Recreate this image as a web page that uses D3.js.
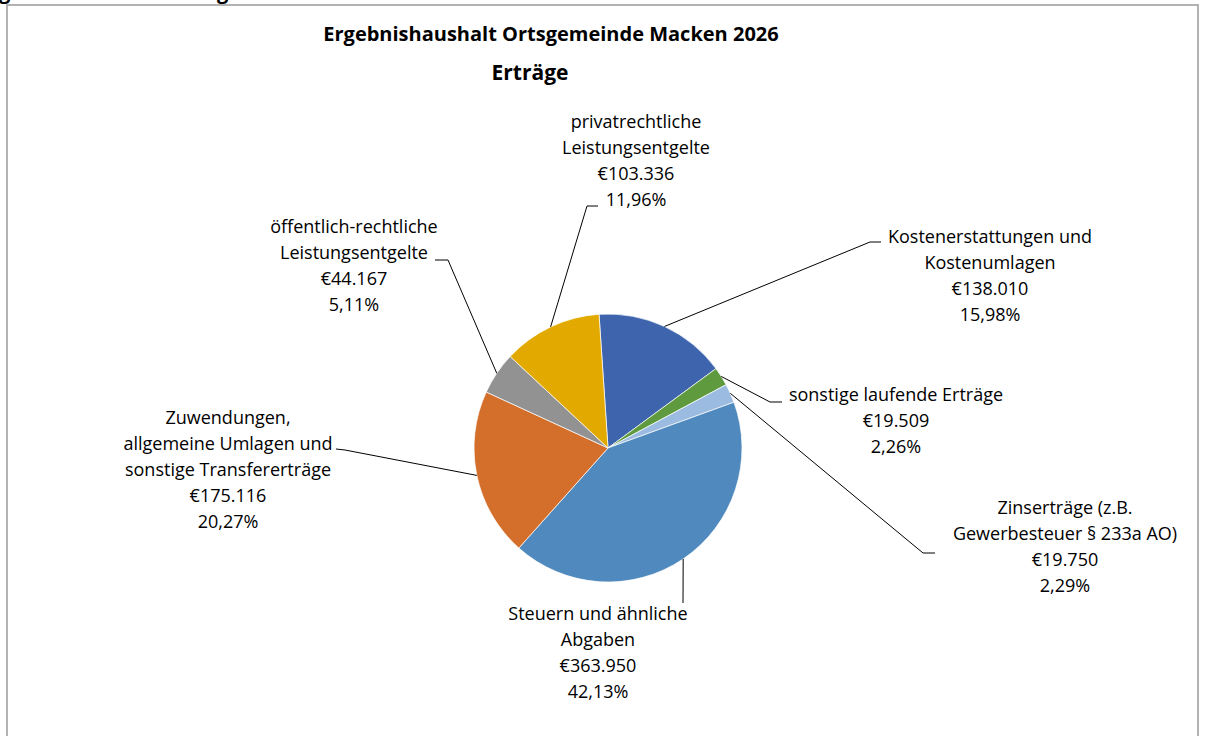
<!DOCTYPE html>
<html>
<head>
<meta charset="utf-8">
<script src="https://cdn.jsdelivr.net/npm/d3@7/dist/d3.min.js"></script>
<style>
  html, body { margin: 0; padding: 0; background: #fff; overflow: hidden; }
  text { font-family: "Open Sans", "Noto Sans", sans-serif; }
</style>
</head>
<body>
<div id="chart"></div>
<script>
// categories in pie order (clockwise from top)
var categories = [
  "Kostenerstattungen und\nKostenumlagen",
  "sonstige laufende Erträge",
  "Zinserträge (z.B.\nGewerbesteuer § 233a AO)",
  "Steuern und ähnliche\nAbgaben",
  "Zuwendungen,\nallgemeine Umlagen und\nsonstige Transfererträge",
  "öffentlich-rechtliche\nLeistungsentgelte",
  "privatrechtliche\nLeistungsentgelte"
];
var amounts = [138010, 19509, 19750, 363950, 175116, 44167, 103336];
var sliceColors = ["#3d64ad", "#5f9a3e", "#9bbce0", "#4f89bd", "#d46f2b", "#929292", "#e2aa00"];
var titleLines = ["Ergebnishaushalt Ortsgemeinde Macken 2026", "Erträge"];

// label placement: centre x, first line y, leader elbow and tick end
var labelLayout = [
  { x: 990, y: 237, elbow: [870, 242], tick: [881, 242] },
  { x: 896, y: 395, elbow: [770, 402], tick: [782, 402] },
  { x: 1065, y: 508, elbow: [923, 553], tick: [935, 553] },
  { x: 598, y: 614, elbow: null, tick: [683, 603] },
  { x: 228, y: 418, elbow: [345, 450], tick: [336, 449] },
  { x: 354, y: 227, elbow: [448, 260], tick: [435, 260] },
  { x: 636, y: 122, elbow: [587, 206], tick: [598, 206] }
];

var width = 1207, height = 736;
var cx = 608, cy = 448, radius = 134;
var lineGap = 26;

var de = d3.formatLocale({ decimal: ",", thousands: ".", grouping: [3], currency: ["€", ""] });
var fmtMoney = de.format("$,.0f");
var fmtPct = de.format(".2%");

var svg = d3.select('#chart')
  .append('svg')
  .attr('width', width)
  .attr('height', height);

// cut-off heading above the chart frame
svg.append('text').attr('x', -1).attr('y', -1)
  .style('font-weight', 'bold').style('font-size', '20px').text('g');
svg.append('text').attr('x', 217).attr('y', -1)
  .style('font-weight', 'bold').style('font-size', '20px').text('g');

// chart frame
svg.append('rect')
  .attr('x', 7).attr('y', 5)
  .attr('width', 1191).attr('height', 780)
  .attr('fill', '#fff')
  .attr('stroke', '#a0a0a0')
  .attr('stroke-width', 1.6);

// title
svg.append('text').attr('x', 551).attr('y', 41)
  .attr('text-anchor', 'middle')
  .style('font-weight', 'bold').style('font-size', '20px')
  .text(titleLines[0]);
svg.append('text').attr('x', 530).attr('y', 80)
  .attr('text-anchor', 'middle')
  .style('font-weight', 'bold').style('font-size', '21px')
  .text(titleLines[1]);

var total = d3.sum(amounts);
var data = categories.map(function(c, i) {
  return { name: c, value: amounts[i], color: sliceColors[i], layout: labelLayout[i] };
});

var startAngle = -3.84 * Math.PI / 180;
var pie = d3.pie()
  .sort(null)
  .value(d => d.value)
  .startAngle(startAngle)
  .endAngle(startAngle + 2 * Math.PI);

var arc = d3.arc().innerRadius(0).outerRadius(radius);
var edgeArc = d3.arc().innerRadius(radius).outerRadius(radius);

var g = svg.append('g')
  .attr('transform', 'translate(' + cx + ',' + cy + ')');

var arcs = pie(data);

g.selectAll('path.slice')
  .data(arcs)
  .enter()
  .append('path')
  .attr('class', 'slice')
  .attr('d', arc)
  .attr('fill', d => d.data.color)
  .attr('stroke', '#ffffff')
  .attr('stroke-width', 0.7);

// leader lines
arcs.forEach(function(d) {
  var p = edgeArc.centroid(d);
  var L = d.data.layout;
  var pts = [[cx + p[0], cy + p[1]]];
  if (L.elbow) pts.push(L.elbow);
  pts.push(L.tick);
  svg.append('path')
    .attr('d', d3.line()(pts))
    .attr('fill', 'none')
    .attr('stroke', '#000')
    .attr('stroke-width', 1);
});

// data labels
arcs.forEach(function(d) {
  var L = d.data.layout;
  var lines = d.data.name.split('\n');
  lines.push(fmtMoney(d.data.value));
  lines.push(fmtPct(d.data.value / total));
  var t = svg.append('text')
    .attr('text-anchor', 'middle')
    .style('font-size', '18px')
    .attr('fill', '#000');
  lines.forEach(function(s, k) {
    t.append('tspan')
      .attr('x', L.x)
      .attr('y', L.y + k * lineGap)
      .attr('dy', '0.35em')
      .text(s);
  });
});
</script>
</body>
</html>
